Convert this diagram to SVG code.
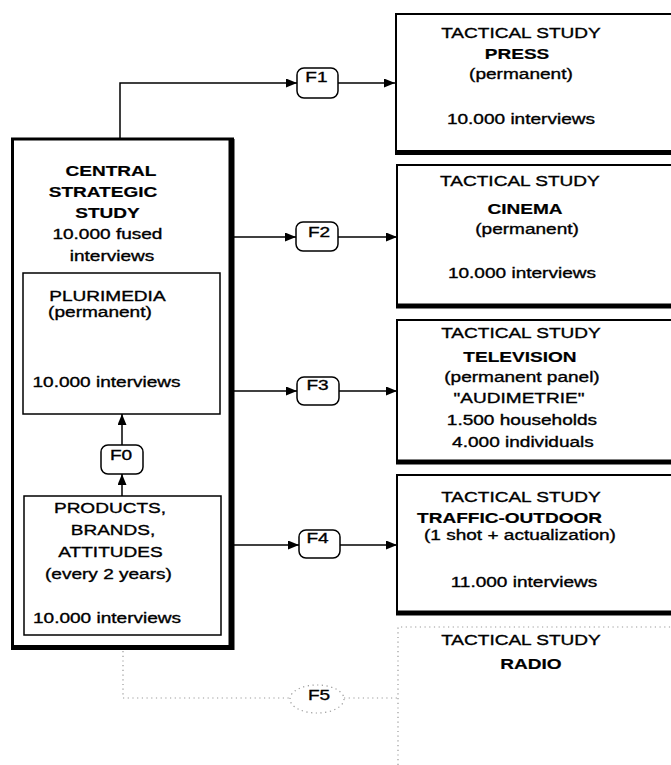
<svg xmlns="http://www.w3.org/2000/svg" width="671" height="765" viewBox="0 0 671 765">
<style>
.box{fill:#fff;stroke:#000;stroke-width:2}
.thick{stroke:#000;stroke-width:5;fill:none}
.thin{fill:#fff;stroke:#000;stroke-width:1.5}
.conn{stroke:#000;stroke-width:1.5;fill:none}
.fbox{fill:#fff;stroke:#000;stroke-width:1.5}
.dot{stroke:#999;stroke-width:1.2;fill:none;stroke-dasharray:1.2 3.5}
text{font-family:"Liberation Sans",Arial,Helvetica,sans-serif;font-size:15px;fill:#000;stroke:#000;stroke-width:0.35;text-anchor:middle}
.b{font-weight:bold;stroke-width:0.2}
</style>
<defs>
<marker id="arr" markerUnits="userSpaceOnUse" markerWidth="11" markerHeight="9" refX="11" refY="4.5" orient="auto">
<path d="M0,0 L11,4.5 L0,9 z" fill="#000"/>
</marker>
</defs>

<g id="press">
<rect class="box" x="396" y="14" width="290" height="138"/>
<line class="thick" x1="395" y1="152.5" x2="671" y2="152.5"/>
</g>
<g id="cinema">
<rect class="box" x="397" y="165" width="290" height="141"/>
<line class="thick" x1="396" y1="306" x2="671" y2="306"/>
</g>
<g id="television">
<rect class="box" x="397" y="320" width="290" height="142"/>
<line class="thick" x1="396" y1="462" x2="671" y2="462"/>
</g>
<g id="traffic">
<rect class="box" x="397" y="475" width="290" height="138"/>
<line class="thick" x1="396" y1="613" x2="671" y2="613"/>
</g>
<g id="radio">
<path class="dot" d="M398,765 V627 H671"/>
</g>
<g id="central">
<rect class="box" x="12.5" y="139" width="220" height="509" style="stroke-width:3"/>
<line class="thick" x1="231.5" y1="139" x2="231.5" y2="650" style="stroke-width:6"/>
<line class="thick" x1="11" y1="647.5" x2="234" y2="647.5"/>
</g>
<g id="plurimedia">
<rect class="thin" x="23" y="273" width="197" height="141"/>
</g>
<g id="products">
<rect class="thin" x="24" y="496" width="197" height="139"/>
</g>
<g id="f1"><rect class="fbox" x="297" y="68" width="41" height="30" rx="7"/></g>
<g id="f2"><rect class="fbox" x="296" y="222" width="42" height="29" rx="7"/></g>
<g id="f3"><rect class="fbox" x="297" y="377" width="42" height="28" rx="7"/></g>
<g id="f0"><rect class="fbox" x="101" y="445" width="42" height="29" rx="7"/></g>
<g id="f4"><rect class="fbox" x="299" y="530" width="41" height="28" rx="7"/></g>
<g id="f5"><ellipse cx="317" cy="699" rx="27" ry="14" class="dot"/></g>

<g id="connectors">
<path class="conn" d="M120,139 V83 H297" marker-end="url(#arr)"/>
<path class="conn" d="M338,83 H395" marker-end="url(#arr)"/>
<path class="conn" d="M234,237 H296" marker-end="url(#arr)"/>
<path class="conn" d="M338,237 H397" marker-end="url(#arr)"/>
<path class="conn" d="M234,391 H297" marker-end="url(#arr)"/>
<path class="conn" d="M339,391 H397" marker-end="url(#arr)"/>
<path class="conn" d="M234,545 H299" marker-end="url(#arr)"/>
<path class="conn" d="M340,545 H397" marker-end="url(#arr)"/>
<path class="conn" d="M122,496 V474" marker-end="url(#arr)"/>
<path class="conn" d="M122,445 V414" marker-end="url(#arr)"/>
<path class="dot" d="M123,651 V698 H290"/>
<path class="dot" d="M344,698 H398"/>
</g>

<g id="labels" transform="scale(1.27,1)">
<text x="410.2" y="38">TACTICAL STUDY</text>
<text x="407.1" y="59" class="b">PRESS</text>
<text x="410.2" y="79">(permanent)</text>
<text x="410.2" y="124">10.000 interviews</text>

<text x="409.4" y="186">TACTICAL STUDY</text>
<text x="413.4" y="214" class="b">CINEMA</text>
<text x="415.0" y="234">(permanent)</text>
<text x="411.0" y="278">10.000 interviews</text>

<text x="410.2" y="338">TACTICAL STUDY</text>
<text x="409.4" y="362" class="b">TELEVISION</text>
<text x="411.0" y="382">(permanent panel)</text>
<text x="408.7" y="403">"AUDIMETRIE"</text>
<text x="411.0" y="425">1.500 households</text>
<text x="411.8" y="447">4.000 individuals</text>

<text x="410.2" y="502">TACTICAL STUDY</text>
<text x="401.2" y="523" class="b">TRAFFIC-OUTDOOR</text>
<text x="409.4" y="540">(1 shot + actualization)</text>
<text x="412.6" y="587">11.000 interviews</text>

<text x="410.2" y="645">TACTICAL STUDY</text>
<text x="418.1" y="669" class="b">RADIO</text>

<text x="87.4" y="176" class="b">CENTRAL</text>
<text x="81.1" y="197" class="b">STRATEGIC</text>
<text x="84.6" y="218" class="b">STUDY</text>
<text x="84.6" y="239">10.000 fused</text>
<text x="88.2" y="261">interviews</text>

<text x="84.6" y="301">PLURIMEDIA</text>
<text x="78.7" y="317">(permanent)</text>
<text x="83.9" y="387">10.000 interviews</text>

<text x="86.6" y="513">PRODUCTS,</text>
<text x="89.0" y="535">BRANDS,</text>
<text x="87.0" y="557">ATTITUDES</text>
<text x="85.4" y="579">(every 2 years)</text>
<text x="84.3" y="623">10.000 interviews</text>

<text x="249.2" y="82">F1</text>
<text x="251.2" y="237">F2</text>
<text x="250" y="390">F3</text>
<text x="95.3" y="460">F0</text>
<text x="250" y="543">F4</text>
<text x="251.2" y="700">F5</text>
</g>
</svg>
